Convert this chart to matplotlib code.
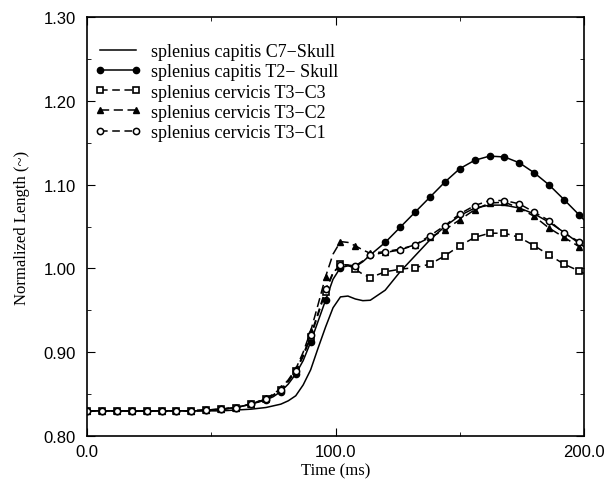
import matplotlib
matplotlib.use("Agg")
import matplotlib.pyplot as plt
from matplotlib.ticker import MultipleLocator, FormatStrFormatter

# time samples (ms)
t = [0, 6, 12, 18, 24, 30, 36, 42, 48, 54, 60, 66, 72, 75, 78, 81, 84, 87,
     90, 93, 96, 99, 102, 105, 108, 111, 114, 120, 126, 132, 138, 144, 150,
     156, 162, 168, 174, 180, 186, 192, 198, 200]

c7_skull = [0.830, 0.830, 0.830, 0.830, 0.830, 0.830, 0.830, 0.830, 0.830,
            0.830, 0.831, 0.832, 0.834, 0.836, 0.838, 0.842, 0.848, 0.861,
            0.879, 0.905, 0.930, 0.953, 0.966, 0.967, 0.9635, 0.9615, 0.962,
            0.974, 0.996, 1.015, 1.034, 1.050, 1.063, 1.072, 1.0755, 1.0755,
            1.072, 1.065, 1.055, 1.043, 1.030, 1.026]

t2_skull = [0.830, 0.830, 0.830, 0.830, 0.830, 0.830, 0.830, 0.830, 0.8305,
            0.832, 0.834, 0.838, 0.843, 0.847, 0.853, 0.862, 0.874, 0.890,
            0.912, 0.937, 0.962, 0.987, 1.001, 1.003, 1.002, 1.008, 1.016,
            1.031, 1.049, 1.067, 1.085, 1.103, 1.119, 1.129, 1.134, 1.133,
            1.126, 1.114, 1.0995, 1.082, 1.064, 1.058]

t3_c3 = [0.830, 0.830, 0.830, 0.830, 0.830, 0.830, 0.830, 0.830, 0.831,
         0.832, 0.834, 0.838, 0.844, 0.849, 0.855, 0.865, 0.877, 0.895,
         0.918, 0.945, 0.972, 0.994, 1.005, 1.004, 0.999, 0.993, 0.989,
         0.996, 0.999, 1.001, 1.005, 1.015, 1.027, 1.037, 1.042, 1.042,
         1.037, 1.027, 1.016, 1.005, 0.997, 0.994]

t3_c2 = [0.830, 0.830, 0.830, 0.830, 0.830, 0.830, 0.830, 0.830, 0.831,
         0.832, 0.834, 0.838, 0.845, 0.850, 0.857, 0.867, 0.880, 0.900,
         0.925, 0.957, 0.990, 1.017, 1.032, 1.031, 1.027, 1.022, 1.018,
         1.020, 1.023, 1.028, 1.037, 1.046, 1.058, 1.070, 1.078, 1.079,
         1.072, 1.062, 1.048, 1.037, 1.026, 1.022]

t3_c1 = [0.830, 0.830, 0.830, 0.830, 0.830, 0.830, 0.830, 0.830, 0.831,
         0.832, 0.834, 0.838, 0.844, 0.849, 0.855, 0.866, 0.878, 0.897,
         0.920, 0.947, 0.975, 0.995, 1.004, 1.004, 1.003, 1.009, 1.016,
         1.019, 1.022, 1.028, 1.039, 1.051, 1.065, 1.075, 1.081, 1.081,
         1.077, 1.067, 1.057, 1.042, 1.032, 1.029]

labels = ["splenius capitis C7\u2212Skull",
          "splenius capitis T2\u2212 Skull",
          "splenius cervicis T3\u2212C3",
          "splenius cervicis T3\u2212C2",
          "splenius cervicis T3\u2212C1"]

fig = plt.figure(figsize=(6.07, 4.85), dpi=100)
ax = fig.add_axes([87 / 607, 1 - 437 / 485, (584 - 87) / 607, (437 - 18) / 485])

# markers only on the 6 ms sampling grid
mk = [i for i, v in enumerate(t) if v % 6 == 0 and v < 200]
lw = 1.1
ax.plot(t, c7_skull, color="black", lw=lw, label=labels[0])
ax.plot(t, t2_skull, color="black", lw=lw, marker="o", ms=4.5,
        markevery=mk, label=labels[1])
ax.plot(t, t3_c3, color="black", lw=lw, ls=(0, (5, 3)), marker="s", ms=4,
        mfc="white", mew=1.2, markevery=mk, label=labels[2])
ax.plot(t, t3_c2, color="black", lw=lw, ls=(0, (6, 3)), marker="^", ms=4.5,
        markevery=mk, label=labels[3])
ax.plot(t, t3_c1, color="black", lw=lw, ls=(0, (5, 3)), marker="o", ms=4.5,
        mfc="white", mew=1.1, markevery=mk, label=labels[4])

ax.set_xlim(0, 200)
ax.set_ylim(0.80, 1.30)
ax.xaxis.set_major_locator(MultipleLocator(100))
ax.xaxis.set_minor_locator(MultipleLocator(50))
ax.yaxis.set_major_locator(MultipleLocator(0.1))
ax.yaxis.set_minor_locator(MultipleLocator(0.05))
ax.xaxis.set_major_formatter(FormatStrFormatter("%.1f"))
ax.yaxis.set_major_formatter(FormatStrFormatter("%.2f"))
ax.tick_params(which="both", direction="in", top=True, right=True)
ax.tick_params(which="major", length=6, labelsize=12)
ax.tick_params(which="minor", length=3)
for lab in ax.get_xticklabels() + ax.get_yticklabels():
    lab.set_family(["Liberation Sans", "DejaVu Sans"])
ax.tick_params(axis="x", pad=6)
ax.tick_params(axis="y", pad=8)

for s in ax.spines.values():
    s.set_linewidth(1.2)

ax.set_xlabel("Time (ms)", family="Liberation Serif", fontsize=12, labelpad=2)
ax.set_ylabel("Normalized Length (~)", family="Liberation Serif", fontsize=12,
              labelpad=10)

leg = ax.legend(loc="upper left", frameon=False, numpoints=2,
                prop={"family": "Liberation Serif", "size": 13},
                handlelength=2.6, handletextpad=0.5, labelspacing=0.18,
                borderaxespad=0.3, bbox_to_anchor=(-0.01, 0.968))

fig.savefig("out.png", dpi=100)
